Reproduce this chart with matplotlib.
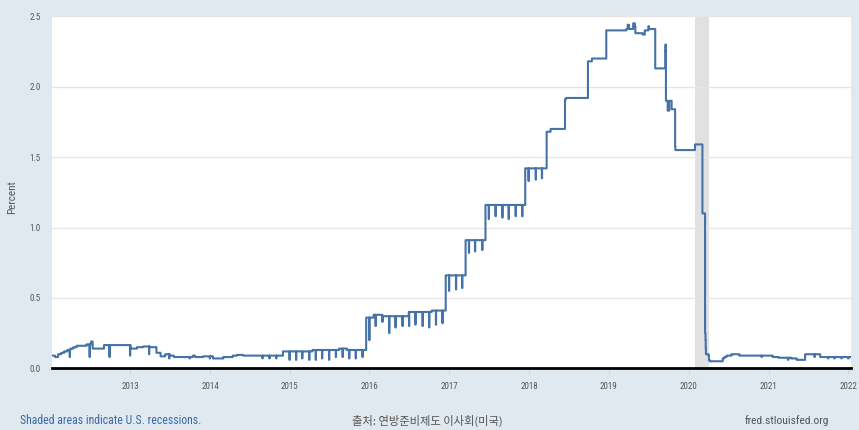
import numpy as np
import pandas as pd
import matplotlib
matplotlib.use("Agg")
import matplotlib.pyplot as plt
from matplotlib import font_manager

# ---- data (effective federal funds rate, percent) ----
level_dates = [
    "2012-01-09", "2012-01-23", "2012-02-06", "2012-02-20", "2012-03-05", "2012-03-19",
    "2012-04-02", "2012-04-16", "2012-05-01", "2012-06-15", "2012-07-02", "2012-07-06",
    "2012-07-13", "2012-09-03", "2013-01-02", "2013-02-01", "2013-03-01", "2013-04-01",
    "2013-05-01", "2013-05-20", "2013-06-10", "2013-07-01", "2013-07-20", "2013-10-15",
    "2013-10-25", "2013-12-01", "2014-01-15", "2014-03-03", "2014-04-15", "2014-05-05",
    "2014-06-02", "2014-12-01", "2015-04-15", "2015-08-15", "2015-09-20", "2015-12-17",
    "2016-01-20", "2016-03-01", "2016-06-29", "2016-10-12", "2016-12-15", "2017-03-16",
    "2017-06-15", "2017-12-14", "2018-03-22", "2018-04-09", "2018-06-14", "2018-06-18",
    "2018-09-27", "2018-10-15", "2018-12-20", "2019-03-22", "2019-03-28", "2019-04-03",
    "2019-04-22", "2019-04-30", "2019-05-02", "2019-06-05", "2019-06-14", "2019-07-01",
    "2019-07-03", "2019-08-01", "2019-09-16", "2019-09-17", "2019-09-18", "2019-09-19",
    "2019-09-27", "2019-10-04", "2019-10-15", "2019-10-31", "2019-11-01", "2020-01-30",
    "2020-03-04", "2020-03-16", "2020-03-18", "2020-03-19", "2020-03-20", "2020-04-01",
    "2020-04-03", "2020-04-06", "2020-06-05", "2020-06-12", "2020-06-22", "2020-07-15",
    "2020-08-20", "2021-01-20", "2021-02-15", "2021-04-15", "2021-05-10", "2021-06-17",
    "2021-08-25", "2022-01-13",
]
level_values = [
    0.09, 0.08, 0.10, 0.11, 0.12, 0.13,
    0.14, 0.15, 0.16, 0.17, 0.175, 0.19,
    0.14, 0.165, 0.14, 0.15, 0.155, 0.15,
    0.11, 0.085, 0.10, 0.09, 0.08, 0.09,
    0.08, 0.085, 0.07, 0.08, 0.09, 0.095,
    0.09, 0.12, 0.13, 0.14, 0.13, 0.36,
    0.38, 0.37, 0.40, 0.41, 0.66, 0.91,
    1.16, 1.42, 1.68, 1.70, 1.91, 1.92,
    2.18, 2.20, 2.40, 2.41, 2.44, 2.41,
    2.45, 2.43, 2.38, 2.37, 2.40, 2.43,
    2.41, 2.13, 2.25, 2.30, 2.25, 1.90,
    1.83, 1.90, 1.84, 1.58, 1.55, 1.59,
    1.10, 0.25, 0.20, 0.14, 0.10, 0.09,
    0.06, 0.05, 0.07, 0.08, 0.09, 0.10,
    0.09, 0.08, 0.075, 0.07, 0.06, 0.10,
    0.08, 0.08,
]

dip_dates = [
    "2012-03-30", "2012-06-29", "2012-09-28", "2012-12-31", "2013-03-28", "2013-06-28",
    "2013-09-30", "2013-12-31", "2014-08-29", "2014-09-30", "2014-10-31",
    "2014-12-31", "2015-01-30", "2015-02-27", "2015-03-31", "2015-04-30", "2015-05-29",
    "2015-06-30", "2015-07-31", "2015-08-31", "2015-09-30", "2015-10-30", "2015-11-30",
    "2015-12-31", "2016-01-29", "2016-02-29", "2016-03-31", "2016-04-29", "2016-05-31",
    "2016-06-30", "2016-07-29", "2016-08-31", "2016-09-30", "2016-10-31", "2016-11-30",
    "2016-12-30", "2017-01-31", "2017-02-28", "2017-03-31", "2017-04-28", "2017-05-31",
    "2017-06-30", "2017-07-31", "2017-08-31", "2017-09-29", "2017-10-31", "2017-11-30",
    "2017-12-29", "2018-01-31", "2018-02-28", "2020-11-30", "2021-03-31", "2021-07-30",
    "2021-09-30", "2021-10-29", "2021-11-30", "2021-12-31",
]
dip_values = [
    0.08, 0.08, 0.08, 0.09, 0.10, 0.07,
    0.07, 0.07, 0.07, 0.07, 0.07,
    0.06, 0.06, 0.07, 0.06, 0.06, 0.07,
    0.06, 0.08, 0.08, 0.07, 0.07, 0.08,
    0.20, 0.30, 0.33, 0.25, 0.29, 0.30,
    0.30, 0.31, 0.30, 0.29, 0.31, 0.32,
    0.55, 0.56, 0.57, 0.82, 0.83, 0.84,
    1.06, 1.08, 1.07, 1.06, 1.08, 1.08,
    1.33, 1.34, 1.35, 0.08, 0.06, 0.08,
    0.07, 0.07, 0.07, 0.07,
]

recession_start = "2020-02-01"
recession_end = "2020-04-01"
year_ticks = ["2013", "2014", "2015", "2016", "2017", "2018", "2019", "2020", "2021", "2022"]
y_ticks = [0.0, 0.5, 1.0, 1.5, 2.0, 2.5]

# ---- build daily series from the step levels and dips ----
levels = pd.Series(level_values, index=pd.to_datetime(level_dates))
days = pd.date_range(levels.index[0], levels.index[-1], freq="D")
series = levels.reindex(days, method="ffill")
series.loc[pd.to_datetime(dip_dates)] = dip_values

# ---- choose the narrowest available Latin font ----
names = {f.name for f in font_manager.fontManager.ttflist}
condensed = {(f.name, f.stretch) for f in font_manager.fontManager.ttflist
             if str(f.stretch) not in ("normal", "400", "500")}
LAT_FAMILY, LAT_STRETCH = "Roboto", "normal"
for cand in ["Liberation Sans Narrow", "Roboto Condensed", "Open Sans Condensed"]:
    if cand in names:
        LAT_FAMILY = cand
        break
else:
    for nm, st in condensed:
        if nm in ("DejaVu Sans", "Roboto", "Open Sans", "Noto Sans"):
            LAT_FAMILY, LAT_STRETCH = nm, st
            break
    else:
        if "Roboto" not in names:
            LAT_FAMILY = "DejaVu Sans"
NARROW = [LAT_FAMILY, "DejaVu Sans"]

BG = "#e1e9f0"
LINE = "#4572a7"
W, H = 859, 430

fig = plt.figure(figsize=(W / 100, H / 100), dpi=100, facecolor=BG)
ax = fig.add_axes([52 / W, 1 - 368.3 / H, (851 - 52) / W, (368.3 - 16.3) / H])
ax.set_facecolor("white")

ax.axvspan(pd.Timestamp(recession_start), pd.Timestamp(recession_end),
           color="#e1e1e1", lw=0, zorder=1)
ax.plot(series.index, series.values, drawstyle="steps-post", color=LINE,
        lw=1.5, zorder=3)

ax.set_xlim(pd.Timestamp("2012-01-09"), pd.Timestamp("2022-01-13"))
ax.set_ylim(0, 2.5)
ax.set_yticks(y_ticks)
ax.set_yticklabels([f"{v:.1f}" for v in y_ticks])
ax.set_xticks([pd.Timestamp(y + "-01-01") for y in year_ticks])
ax.set_xticklabels(year_ticks)

ax.grid(axis="y", color="#e6e6e6", lw=1.0, zorder=0)
ax.grid(axis="x", visible=False)
for s in ["top", "right", "left"]:
    ax.spines[s].set_visible(False)
ax.spines["bottom"].set_color("black")
ax.spines["bottom"].set_linewidth(2.0)
ax.spines["bottom"].set_zorder(4)

renderer = fig.canvas.get_renderer()


def fit(t, target_px):
    """scale a text's font size so its rendered width matches target_px"""
    w = t.get_window_extent(renderer).width
    t.set_fontsize(t.get_fontsize() * target_px / w)


# tick label size from the width of "2013" (about 17 px in the reference)
probe = fig.text(0, 0, "2013", fontsize=10, family=NARROW, stretch=LAT_STRETCH)
fit(probe, 17.5)
tick_fs = min(probe.get_fontsize(), 8.5)
probe.remove()

ax.tick_params(axis="y", length=0, pad=8, labelsize=tick_fs, labelcolor="#555555")
ax.tick_params(axis="x", length=4, width=0.8, color="#ccd6eb", pad=6,
               labelsize=tick_fs, labelcolor="#555555")
for lab in ax.get_xticklabels() + ax.get_yticklabels():
    lab.set_family(NARROW)
    lab.set_stretch(LAT_STRETCH)

tp = fig.text(12 / W, 1 - 197 / H, "Percent", rotation=90, ha="center", va="center",
              fontsize=8, color="#555555", family=NARROW, stretch=LAT_STRETCH)
t1 = fig.text(20 / W, 1 - 421 / H, "Shaded areas indicate U.S. recessions.",
              ha="left", va="center", fontsize=10, color="#3a68a8",
              family=NARROW, stretch=LAT_STRETCH)
fit(t1, 180)
t2 = fig.text(427 / W, 1 - 421 / H, "출처: 연방준비제도 이사회(미국)",
              ha="center", va="center", fontsize=10, color="#555555",
              family=["Noto Sans CJK KR", "DejaVu Sans"])
fit(t2, 151)
t3 = fig.text(829 / W, 1 - 421 / H, "fred.stlouisfed.org",
              ha="right", va="center", fontsize=10, color="#555555",
              family=NARROW, stretch=LAT_STRETCH)
fit(t3, 84)

fig.savefig("out.png", dpi=100, facecolor=BG)
